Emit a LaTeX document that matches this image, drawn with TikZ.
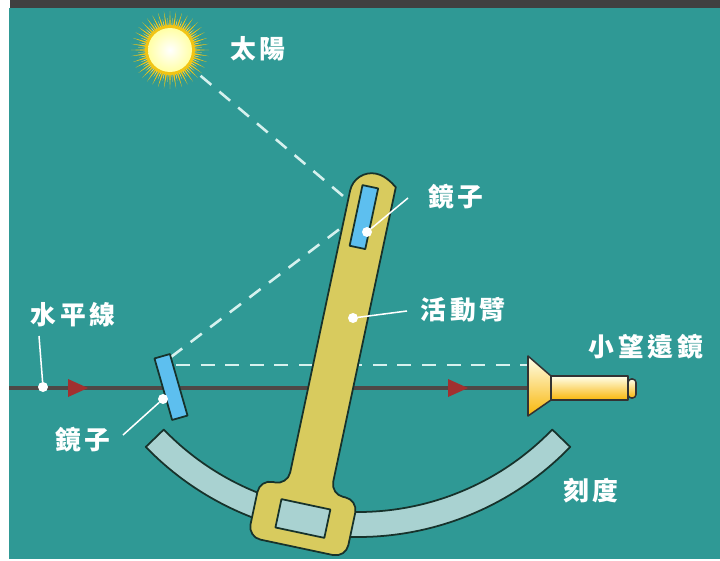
\documentclass[tikz,border=0pt]{standalone}
\usepackage{fontspec}
\newfontfamily\cjk[LetterSpace=15]{Noto Sans CJK TC}

\definecolor{sea}{HTML}{2F9995}
\definecolor{topbar}{HTML}{404040}
\definecolor{armyellow}{HTML}{D8CB5E}
\definecolor{edge}{HTML}{17322B}
\definecolor{scalegrey}{HTML}{A9D2D1}
\definecolor{glass}{HTML}{5DBFEF}
\definecolor{beam}{HTML}{D6F1EE}
\definecolor{horizon}{HTML}{4E4846}
\definecolor{arrowred}{HTML}{A1302F}
\definecolor{sungold}{HTML}{F2C414}
\definecolor{brass}{HTML}{F6C80C}

\tikzset{
	lbl/.style={text=white,font=\cjk\bfseries\fontsize{22}{24}\selectfont,inner sep=0,outer sep=0},
	dot/.style={circle,fill=white,inner sep=0,outer sep=0,minimum size=0.3cm},
	leader/.style={white,line width=1.3pt},
	ray/.style={beam,line width=2.2pt,dash pattern=on 12pt off 9pt},
	part/.style={draw=edge,line width=1.5pt,line join=round},
	metal/.style={draw=black!80,line width=1.3pt,line join=round,top color=yellow!8!white,middle color=brass,bottom color=brass!75!orange},
}

\begin{document}
\begin{tikzpicture}[x=0.03cm,y=-0.03cm]
	\useasboundingbox (0,0) rectangle (720,561);
	\fill[topbar] (10,0) rectangle (720,8);
	\fill[sea] (9,8) rectangle (720,559);

	\node[circle,inner sep=0,outer sep=0,minimum size=2.4cm] (sun) at (170,50) {};
	\coordinate (mtop) at (362,212);
	\coordinate (mlow) at (171,357);
	\coordinate (mlowh) at (176,365);
	\coordinate (eyepiece) at (528,365);
	\coordinate (west) at (9,388);
	\coordinate (scopeend) at (528,388);

	\draw[ray] (sun) -- (mtop);
	\draw[ray] (mlow) -- (mtop);
	\draw[ray] (mlowh) -- (eyepiece);

	\draw[horizon,line width=2.6pt] (west) -- (scopeend);
	\foreach \x in {68,448}
		\fill[arrowred] (\x,379) -- (\x+20,388) -- (\x,397) -- cycle;

	\begin{scope}[shift={(358,242)}]
		\draw[part,fill=scalegrey] (44:295) arc[start angle=44,end angle=136,radius=295]
			-- (136:270) arc[start angle=136,end angle=44,radius=270] -- cycle;
	\end{scope}

	\begin{scope}[shift={(303,518)},rotate=-12]
		\draw[part,fill=armyellow] (-22,-330) [rounded corners=11pt] -- (-22,-29) -- (-50,-29) -- (-50,30)
			-- (50,30) -- (50,-29) -- (22,-29) -- (22,-330) [sharp corners]
			arc[start angle=0,end angle=-180,radius=22] -- cycle;
		\draw[part,fill=scalegrey] (-25,-14) rectangle (25,15);
		\draw[part,fill=glass] (-11,-338) rectangle (5,-276);
	\end{scope}

	\begin{scope}[shift={(171,387)},rotate=16]
		\draw[part,fill=glass] (-8,-32) rectangle (8,32);
	\end{scope}

	\shade[metal] (528,356) -- (551,376) -- (551,400) -- (528,416) -- cycle;
	\shade[metal] (551,376) rectangle (628,400);
	\shade[metal,rounded corners=3pt] (628,379) rectangle (636,398);

	\begin{scope}[shift={(sun.center)}]
		\foreach \a in {0,9,...,351} {
			\fill[sungold] (\a-3:20) -- (\a:39) -- (\a+3:20) -- cycle;
			\fill[sungold!70!white] (\a+2:20) -- (\a+4.5:32) -- (\a+7:20) -- cycle;
		}
		\fill[sungold] (0,0) circle[radius=25];
		\shade[inner color=white,outer color=yellow!35!white] (0,0) circle[radius=22];
	\end{scope}

	\node[lbl] (sunlabel) at (258,49) {太陽};
	\node[lbl] (toplabel) at (456,197) {鏡子};
	\node[lbl] (armlabel) at (463,310) {活動臂};
	\node[lbl] (horizonlabel) at (73,315) {水平線};
	\node[lbl] (lowlabel) at (83,440) {鏡子};
	\node[lbl] (scopelabel) at (646,347) {小望遠鏡};
	\node[lbl] (scalelabel) at (591,491) {刻度};

	\node[dot] (topdot) at (367,232) {};
	\node[dot] (armdot) at (353,318) {};
	\node[dot] (lowdot) at (163,399) {};
	\node[dot] (horizondot) at (43,387) {};
	\coordinate (topend) at (408,198);
	\coordinate (armend) at (407,311);
	\coordinate (lowend) at (123,435);
	\coordinate (horizonend) at (39,336);
	\draw[leader] (topdot) -- (topend);
	\draw[leader] (armdot) -- (armend);
	\draw[leader] (lowdot) -- (lowend);
	\draw[leader] (horizondot) -- (horizonend);
\end{tikzpicture}
\end{document}
